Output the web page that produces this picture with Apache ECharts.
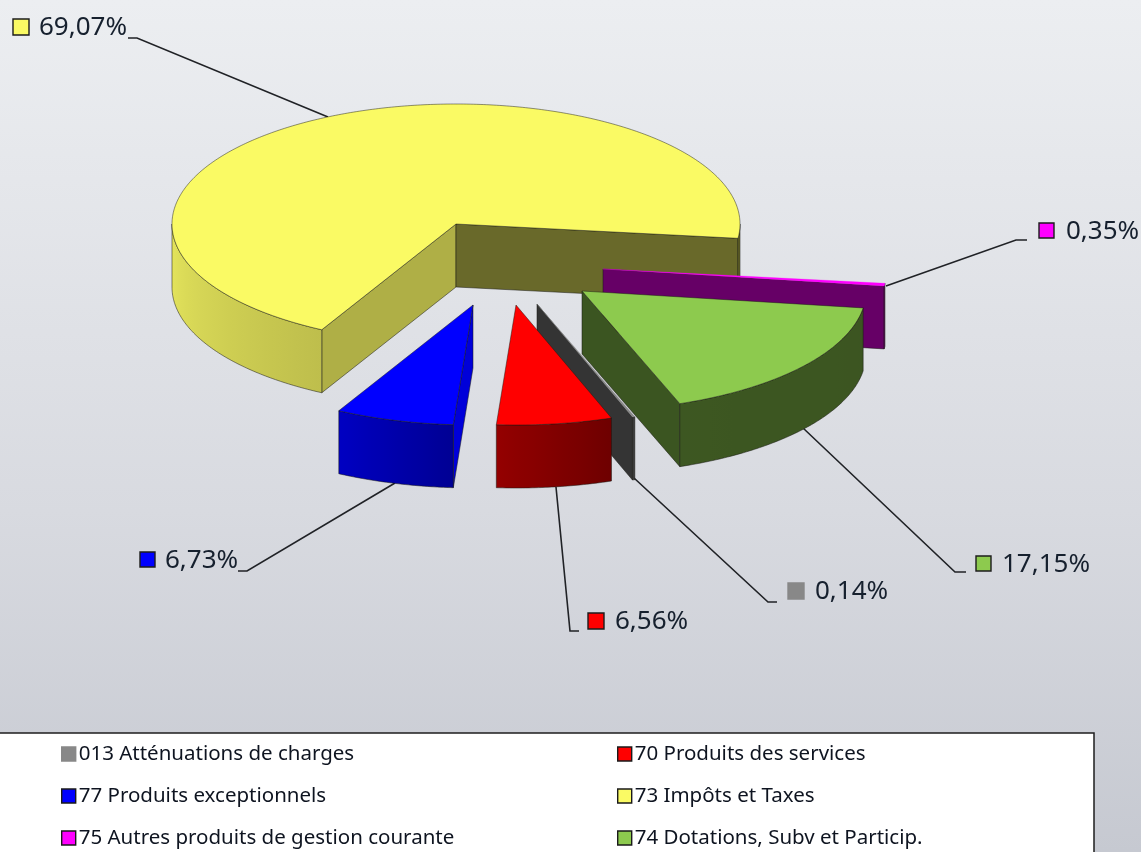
<!DOCTYPE html>
<html><head><meta charset="utf-8">
<style>html,body{margin:0;padding:0;overflow:hidden}#c{width:1141px;height:852px}</style>
<script src="https://cdn.jsdelivr.net/npm/echarts@6/dist/echarts.min.js"></script>
</head><body><div id="c"></div>
<script>
// ---- data, in pie order (clockwise from the start angle)
const categories = ['73 Impôts et Taxes','75 Autres produits de gestion courante','74 Dotations, Subv et Particip.','013 Atténuations de charges','70 Produits des services','77 Produits exceptionnels'];
const values = [69.07, 0.35, 17.15, 0.14, 6.56, 6.73];
const valueLabels = ['69,07%','0,35%','17,15%','0,14%','6,56%','6,73%'];
const colors = ['#fafa64','#ff00ff','#8dca4e','#888888','#ff0000','#0000ff'];

// ---- layout and style
const FONT = '"Noto Sans", sans-serif';
const CX = 456, CY = 224, RX = 284, RY = 120, DEPTH = 63, START = 118.2;
const explode = [[0,0],[147,45],[126,67],[81,80],[60,81],[17,81]];
const startFaceShade = [0.7,0.7,0.7,0.7,0.7,0.85];
const endFaceShade = [0.42,0.4,0.42,0.38,0.42,0.42];
const leaders = [
  [[328,117],[137,38],[128,38]],
  [[886,286],[1016,240],[1027,240]],
  [[803,428],[955,572],[966,572]],
  [[634,478],[768,602],[777,602]],
  [[556,487],[570,631],[579,631]],
  [[395,483],[247,571],[238,571]]
];
const markers = [[13,19,16],[1039,223,15],[976,556,15],[788,583,16],[588,613,16],[140,552,15]];
const labelPos = [[39,28],[1066,232],[1002,565],[815,592],[615,622],[165,561]];
const wallShade = [[0,0.42],[70,0.43],[94,0.58],[118,0.76],[180,0.92]];

function rgb(h){return [1,3,5].map(i=>parseInt(h.substr(i,2),16));}
function shade(h,f){return 'rgb('+rgb(h).map(v=>Math.round(v*f)).join(',')+')';}
function wallF(t){
  for(let i=1;i<wallShade.length;i++){
    if(t<=wallShade[i][0]){
      const a=wallShade[i-1],b=wallShade[i];
      return a[1]+(b[1]-a[1])*(t-a[0])/(b[0]-a[0]);
    }
  }
  return wallShade[wallShade.length-1][1];
}
function pt(ox,oy,deg,dz){
  const r=deg*Math.PI/180;
  return [ox+RX*Math.cos(r),oy+RY*Math.sin(r)+(dz||0)];
}
function arc(ox,oy,a,b,dz){
  const n=Math.max(2,Math.ceil(Math.abs(b-a)*1.5)),out=[];
  for(let i=0;i<=n;i++){out.push(pt(ox,oy,a+(b-a)*i/n,dz));}
  return out;
}
const edge={stroke:'rgba(25,25,20,0.65)',lineWidth:0.8};

// cumulative angles
const total=values.reduce((s,v)=>s+v,0);
const spans=[];
values.reduce((acc,v)=>{const e=acc+v/total*360;spans.push([acc,e]);return e;},START);

function renderSlice(i){
  return function(params,api){
    const v=api.value(0);
    const a=spans[i][0], b=a+v/total*360;
    const ox=CX+explode[i][0], oy=CY+explode[i][1];
    const col=colors[i], ch=[];
    // leader
    ch.push({type:'polyline',shape:{points:leaders[i]},style:{fill:null,stroke:'#202226',lineWidth:1.6},silent:true});
    // start cut face
    const ca=Math.cos(a*Math.PI/180), sa=Math.sin(a*Math.PI/180), sb=Math.cos(b*Math.PI/180);
    if(sa>0&&ca<0.05){
      ch.push({type:'polygon',shape:{points:[[ox,oy],pt(ox,oy,a),pt(ox,oy,a,DEPTH),[ox,oy+DEPTH]]},style:Object.assign({fill:shade(col,startFaceShade[i])},edge)});
    }
    // end cut face
    if(sb>0){
      ch.push({type:'polygon',shape:{points:[[ox,oy],pt(ox,oy,b),pt(ox,oy,b,DEPTH),[ox,oy+DEPTH]]},style:Object.assign({fill:shade(col,endFaceShade[i])},edge)});
    }
    // outer wall on the front half
    [0,360].forEach(k=>{
      const w0=Math.max(a-k,0), w1=Math.min(b-k,180);
      if(w1<=w0)return;
      const x0=ox+RX*Math.cos(w1*Math.PI/180), x1=ox+RX*Math.cos(w0*Math.PI/180);
      const stops=[];
      for(let s=0;s<=10;s++){
        const t=w1+(w0-w1)*s/10;
        const xt=ox+RX*Math.cos(t*Math.PI/180);
        stops.push({offset:Math.min(1,Math.max(0,(xt-x0)/Math.max(1,x1-x0))),color:shade(col,wallF(t))});
      }
      const pts=arc(ox,oy,w0,w1,0).concat(arc(ox,oy,w1,w0,DEPTH));
      ch.push({type:'polygon',shape:{points:pts},style:Object.assign({fill:{type:'linear',x:x0,y:0,x2:x1,y2:0,global:true,colorStops:stops}},edge)});
    });
    // top
    const top=[[ox,oy]].concat(arc(ox,oy,a,b,0));
    ch.push({type:'polygon',shape:{points:top},style:{fill:col,stroke:i===1||i===3?col:'rgba(25,25,20,0.6)',lineWidth:i===1||i===3?0.3:0.8}});
    // marker and value label
    const m=markers[i];
    ch.push({type:'rect',shape:{x:m[0],y:m[1],width:m[2],height:m[2]},style:{fill:col,stroke:i===3?col:'#1c1c1c',lineWidth:1.4},silent:true});
    ch.push({type:'text',x:labelPos[i][0],y:labelPos[i][1],style:{text:valueLabels[i],fill:'#16202e',font:'26px '+FONT,textAlign:'left',textVerticalAlign:'middle'},silent:true});
    return {type:'group',children:ch};
  };
}

const series=categories.map((name,i)=>({
  name:name,type:'custom',coordinateSystem:'none',
  data:[values[i]],
  itemStyle:{color:colors[i]},
  renderItem:renderSlice(i),
  silent:true,animation:false,z:2+i
}));

function legendCol(left,names){
  return {
    orient:'vertical',left:left,top:743,padding:0,itemWidth:14,itemHeight:14,itemGap:20,
    selectedMode:false,icon:'rect',
    data:names.map(n=>({name:n,itemStyle:{color:colors[categories.indexOf(n)],borderColor:n.indexOf('013')===0?'#888888':'#1a1a1a',borderWidth:1.4}})),
    textStyle:{fontFamily:FONT,fontSize:20.5,color:'#0e1420',lineHeight:22,padding:[0,0,0,-2]},z:10
  };
}
const leftNames=[categories[3],categories[5],categories[1]];
const rightNames=[categories[4],categories[0],categories[2]];

const chart=echarts.init(document.getElementById('c'),null,{renderer:'canvas',width:1141,height:852});
chart.setOption({
  animation:false,
  backgroundColor:{type:'linear',x:0,y:0,x2:0,y2:1,colorStops:[{offset:0,color:'#eceef1'},{offset:0.6,color:'#d8dae0'},{offset:1,color:'#c6c9d1'}]},
  legend:[legendCol(61,leftNames),legendCol(617,rightNames)],
  graphic:{elements:[{type:'rect',z:1,silent:true,shape:{x:-3,y:733,width:1097,height:130},style:{fill:'#ffffff',stroke:'#1e1e1e',lineWidth:1.5}}]},
  series:series
});
</script></body></html>
